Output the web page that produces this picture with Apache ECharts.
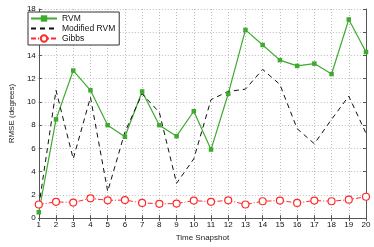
<!DOCTYPE html>
<html><head><meta charset="utf-8">
<script src="https://cdn.jsdelivr.net/npm/echarts@6/dist/echarts.min.js"></script>
<style>html,body{margin:0;padding:0;background:#fff}#c{width:374px;height:247px}</style>
</head><body><div id="c"></div>
<script>
const snapshots = [1,2,3,4,5,6,7,8,9,10,11,12,13,14,15,16,17,18,19,20];
const rvm = [0.5,8.5,12.7,11.0,8.0,7.0,10.9,8.0,7.05,9.2,5.9,10.7,16.2,14.9,13.6,13.1,13.3,12.4,17.1,14.3];
const modifiedRvm = [1.0,11.0,5.1,10.4,2.3,7.4,10.7,9.1,3.0,5.1,10.2,10.9,11.1,12.8,11.5,7.7,6.4,8.5,10.5,7.3];
const gibbs = [1.17,1.4,1.34,1.7,1.53,1.55,1.31,1.23,1.25,1.51,1.4,1.53,1.17,1.45,1.51,1.31,1.51,1.45,1.59,1.84];
const yTicks = [0,2,4,6,8,10,12,14,16,18];
const names = ['RVM','Modified RVM','Gibbs'];

const pair = arr => snapshots.map((x,i)=>[x,arr[i]]);
const font = 'Liberation Sans, Arial, sans-serif';
const axisCommon = {
  axisLine:{show:true,lineStyle:{color:'#555',width:1}},
  axisTick:{show:true,inside:true,length:3,lineStyle:{color:'#555'}},
};
const chart = echarts.init(document.getElementById('c'),null,{renderer:'canvas'});
chart.setOption({
  animation:false,
  backgroundColor:'#fff',
  grid:{left:26,right:8,top:9,bottom:23,show:false},
  legend:{
    orient:'vertical',left:28,top:12,
    data:[
      {name:names[0]},
      {name:names[1],itemStyle:{opacity:0}},
      {name:names[2]}
    ],
    backgroundColor:'#fff',borderColor:'#333',borderWidth:1,
    padding:[2,4,2,2],itemGap:1,itemWidth:26,itemHeight:8,
    textStyle:{fontFamily:font,fontSize:8.5,color:'#111'}
  },
  xAxis:[{
    type:'value',min:1,max:20,interval:1,
    name:'Time Snapshot',nameLocation:'middle',nameGap:12,
    nameTextStyle:{fontFamily:font,fontSize:8,color:'#222'},
    axisLabel:{fontFamily:font,fontSize:8,color:'#111',margin:3},
    splitLine:{show:true,lineStyle:{color:'#bbb',type:[1,2],width:1}},
    ...axisCommon
  },{
    type:'value',min:1,max:20,interval:1,position:'top',
    axisLabel:{show:false},splitLine:{show:false},...axisCommon
  }],
  yAxis:[{
    type:'value',min:yTicks[0],max:yTicks[yTicks.length-1],interval:2,
    name:'RMSE (degrees)',nameLocation:'middle',nameGap:16,
    nameTextStyle:{fontFamily:font,fontSize:8,color:'#222'},
    axisLabel:{fontFamily:font,fontSize:8,color:'#111',margin:3},
    splitLine:{show:true,lineStyle:{color:'#bbb',type:[1,2],width:1}},
    ...axisCommon
  },{
    type:'value',min:yTicks[0],max:yTicks[yTicks.length-1],interval:2,position:'right',
    axisLabel:{show:false},splitLine:{show:false},...axisCommon
  }],
  series:[
    {name:names[0],type:'line',data:pair(rvm),symbol:'rect',symbolSize:4.5,
     lineStyle:{color:'#3eaa2e',width:1.2},itemStyle:{color:'#3eaa2e'}},
    {name:names[1],type:'line',data:pair(modifiedRvm),symbol:'none',
     lineStyle:{color:'#111',width:1,type:[5,4]},itemStyle:{color:'#111'}},
    {name:names[2],type:'line',data:pair(gibbs),symbol:'circle',symbolSize:7,
     lineStyle:{color:'#ff2a2a',width:1,type:[5,2,1,2]},
     itemStyle:{color:'#fff',borderColor:'#ff2a2a',borderWidth:1.2}}
  ]
});
</script></body></html>
